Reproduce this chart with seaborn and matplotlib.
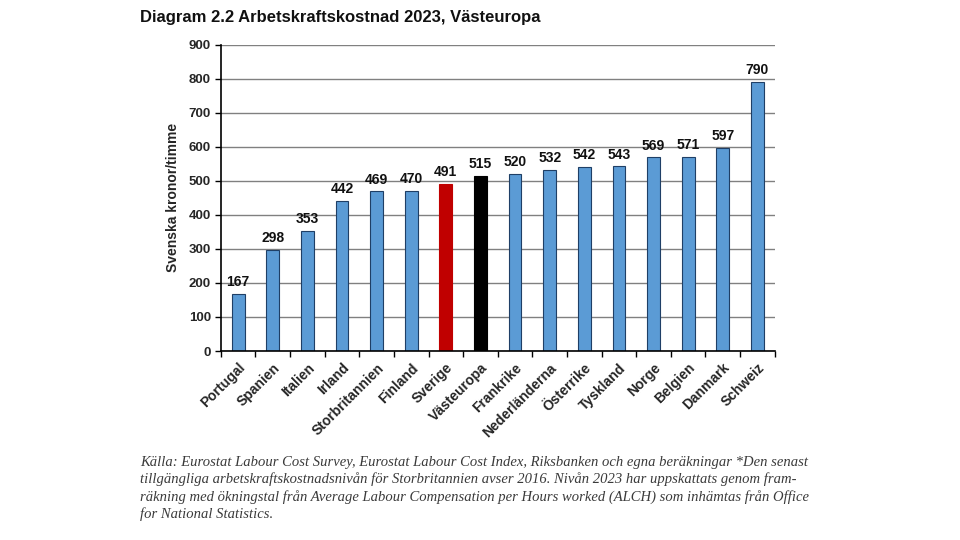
import matplotlib
matplotlib.use("Agg")
import matplotlib.pyplot as plt
import seaborn as sns
import pandas as pd
import numpy as np

countries = ["Portugal", "Spanien", "Italien", "Irland", "Storbritannien", "Finland", "Sverige",
             "Västeuropa", "Frankrike", "Nederländerna", "Österrike", "Tyskland", "Norge",
             "Belgien", "Danmark", "Schweiz"]
values = [167, 298, 353, 442, 469, 470, 491, 515, 520, 532, 542, 543, 569, 571, 597, 790]
yticks = [0, 100, 200, 300, 400, 500, 600, 700, 800, 900]

colors = []
for c in countries:
    if c == "Sverige":
        colors.append("#C00000")
    elif c == "Västeuropa":
        colors.append("#000000")
    else:
        colors.append("#5B9BD5")

sns.set_theme(style="white")
plt.rcParams['font.family'] = ['Liberation Sans', 'DejaVu Sans']

fig = plt.figure(figsize=(9.6, 5.4), dpi=100)
ax = fig.add_axes([0.230, 0.350, 0.577, 0.567])

df = pd.DataFrame({"land": countries, "varde": values})
sns.barplot(data=df, x="land", y="varde", hue="land", palette=colors, legend=False,
            width=0.37, ax=ax, saturation=1, linewidth=0.8)
for p, c in zip(ax.patches, colors):
    if c == "#5B9BD5":
        p.set_edgecolor("#1F3F66")
    else:
        p.set_edgecolor(c)

ax.set_ylim(0, 900)
ax.set_xlim(-0.5, len(countries) - 0.5)
ax.set_yticks(yticks)
ax.set_yticklabels([str(v) for v in yticks], fontsize=9.5, fontweight="bold")
ax.yaxis.grid(True, color="#808080", linewidth=1.0)
ax.set_axisbelow(True)

ax.set_xticks(np.arange(len(countries)))
ax.set_xticklabels(countries, rotation=45, ha="right", rotation_mode="anchor",
                   fontsize=10, fontweight="bold")
ax.tick_params(axis="x", length=0, pad=7)
ax.set_xticks(np.arange(-0.5, len(countries), 1.0), minor=True)
ax.tick_params(axis="x", which="minor", length=4, width=1, color="black", direction="out", bottom=True)
ax.tick_params(axis="y", length=4, width=1, color="black", direction="out", left=True, pad=3)

for s in ["top", "right"]:
    ax.spines[s].set_visible(False)
for s in ["left", "bottom"]:
    ax.spines[s].set_color("black")
    ax.spines[s].set_linewidth(1.2)

ax.set_xlabel("")
ax.set_ylabel("Svenska kronor/timme", fontsize=10, fontweight="bold", labelpad=6)

for i, v in enumerate(values):
    ax.text(i, v + 14, str(v), ha="center", va="bottom", fontsize=10, fontweight="bold",
            color="#111111")

fig.text(0.146, 0.967, "Diagram 2.2 Arbetskraftskostnad 2023, Västeuropa", fontsize=12,
         fontweight="bold", ha="left", va="center", color="#111111")

foot = ("Källa: Eurostat Labour Cost Survey, Eurostat Labour Cost Index, Riksbanken och egna beräkningar *Den senast\n"
        "tillgängliga arbetskraftskostnadsnivån för Storbritannien avser 2016. Nivån 2023 har uppskattats genom fram-\n"
        "räkning med ökningstal från Average Labour Compensation per Hours worked (ALCH) som inhämtas från Office\n"
        "for National Statistics.")
fig.text(0.146, 0.155, foot, fontsize=10.5, family="Liberation Serif", style="italic",
         ha="left", va="top", color="#3a3a3a", linespacing=1.3)

fig.savefig("out.png", dpi=100, facecolor="white")
